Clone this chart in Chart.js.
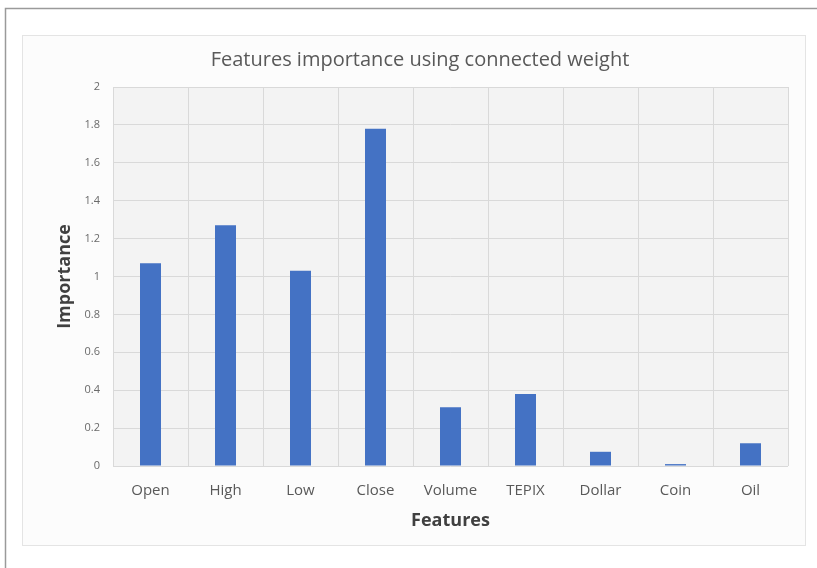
<!DOCTYPE html>
<html>
<head>
<meta charset="utf-8">
<script src="https://cdn.jsdelivr.net/npm/chart.js@4/dist/chart.umd.min.js"></script>
<style>
  html, body { margin: 0; padding: 0; background: #ffffff; }
  #wrap { width: 817px; height: 568px; position: relative; }
</style>
</head>
<body>
<div id="wrap"><canvas id="c" width="817" height="568"></canvas></div>
<script>
// Importance of each input feature, computed with the connected-weight method
const features = ['Open', 'High', 'Low', 'Close', 'Volume', 'TEPIX', 'Dollar', 'Coin', 'Oil'];
const importance = [1.07, 1.27, 1.03, 1.78, 0.31, 0.38, 0.075, 0.01, 0.12];
const yMin = 0;
const yMax = 2;
const yStep = 0.2;

const FONT = "'Open Sans', 'Noto Sans', sans-serif";

// Outer frame, inner panel and plot background, drawn beneath the bars
const framePlugin = {
  id: 'frames',
  beforeDraw(chart) {
    const ctx = chart.ctx;
    const a = chart.chartArea;
    ctx.save();
    ctx.fillStyle = '#ffffff';
    ctx.fillRect(0, 0, chart.width, chart.height);
    // outer frame
    ctx.strokeStyle = '#9a9a9a';
    ctx.lineWidth = 1.5;
    ctx.beginPath();
    ctx.moveTo(5.5, chart.height);
    ctx.lineTo(5.5, 8.5);
    ctx.lineTo(chart.width, 8.5);
    ctx.stroke();
    // inner panel
    ctx.fillStyle = '#fcfcfc';
    ctx.fillRect(22, 35, 783, 510);
    ctx.strokeStyle = '#e4e4e4';
    ctx.lineWidth = 1;
    ctx.strokeRect(22.5, 35.5, 783, 510);
    // plot background
    ctx.fillStyle = '#f3f3f3';
    ctx.fillRect(a.left, a.top, a.right - a.left, a.bottom - a.top);
    ctx.restore();
  }
};

new Chart(document.getElementById('c'), {
  type: 'bar',
  data: {
    labels: features,
    datasets: [{
      label: 'Importance',
      data: importance,
      backgroundColor: '#4472C4',
      borderWidth: 0,
      categoryPercentage: 1.0,
      barPercentage: 0.28
    }]
  },
  options: {
    responsive: false,
    animation: false,
    devicePixelRatio: 1,
    layout: { padding: { left: 52, right: 29, top: 48, bottom: 32 } },
    plugins: {
      legend: { display: false },
      tooltip: { enabled: false },
      title: {
        display: true,
        text: 'Features importance using connected weight',
        color: '#595959',
        font: { family: FONT, size: 20, weight: 'normal', lineHeight: 1.2 },
        padding: { top: 0, bottom: 15 }
      }
    },
    scales: {
      x: {
        grid: { color: '#d9d9d9', lineWidth: 1, drawTicks: false, offset: true },
        border: { display: false },
        ticks: {
          color: '#595959',
          font: { family: FONT, size: 15 },
          padding: 16,
          maxRotation: 0,
          autoSkip: false
        },
        title: {
          display: true,
          text: 'Features',
          color: '#404040',
          font: { family: FONT, size: 18, weight: 'bold', lineHeight: 1.2 },
          padding: { top: 0, bottom: 4 }
        },
        afterFit(scale) { scale.height = 70; }
      },
      y: {
        min: yMin,
        max: yMax,
        grid: { color: '#d9d9d9', lineWidth: 1, drawTicks: false },
        border: { display: false },
        ticks: {
          stepSize: yStep,
          color: '#6a6a6a',
          font: { family: FONT, size: 11 },
          padding: 13,
          callback: (v) => String(parseFloat(Number(v).toFixed(1)))
        },
        title: {
          display: true,
          text: 'Importance',
          color: '#404040',
          font: { family: FONT, size: 18, weight: 'bold', lineHeight: 1.2 },
          padding: { top: 2, bottom: 0 }
        },
        afterFit(scale) { scale.width = 61; }
      }
    }
  },
  plugins: [framePlugin]
});
</script>
</body>
</html>
